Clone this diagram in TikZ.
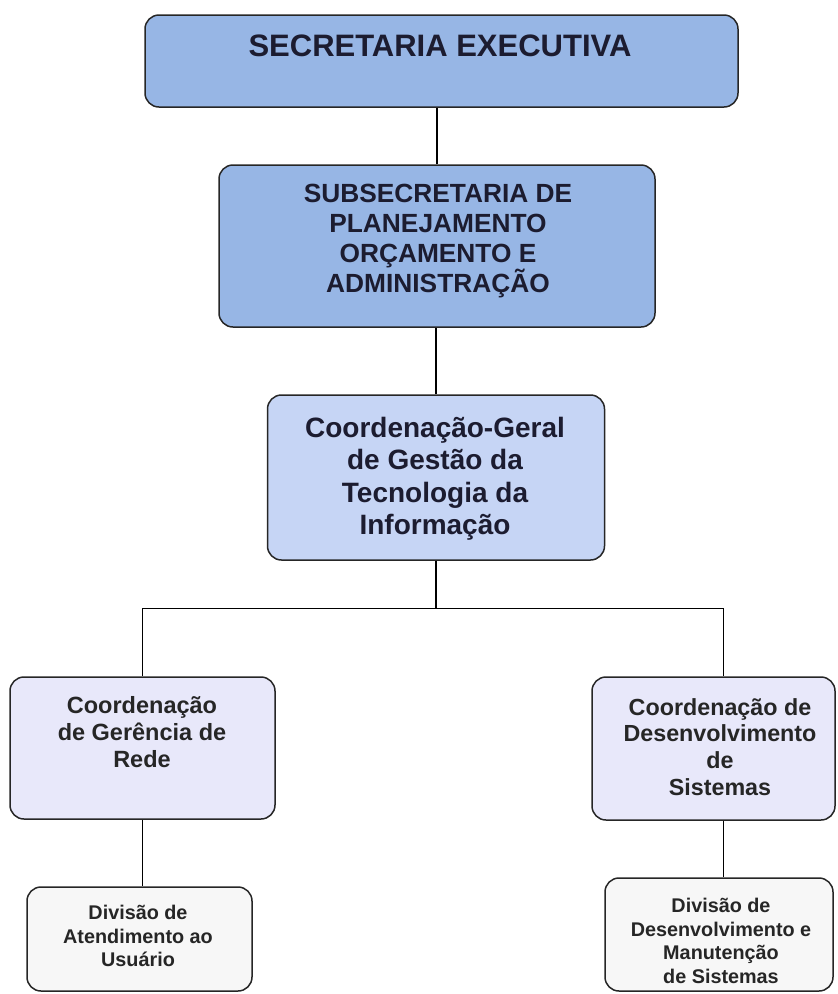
\documentclass[tikz,border=0pt]{standalone}
\usepackage{fontspec}
\setmainfont{Liberation Sans}
\definecolor{azul}{HTML}{97B6E5}
\definecolor{azulclaro}{HTML}{C6D5F5}
\definecolor{lilas}{HTML}{E8E8FA}
\definecolor{cinza}{HTML}{F7F7F7}
\definecolor{tinta}{HTML}{1C1C30}

\begin{document}
\begin{tikzpicture}[x=1pt,y=-1pt,
  caixa/.style={draw=black!85,line width=1.5pt,rounded corners=14pt,inner sep=0pt},
  rotulo/.style={align=center,inner sep=0pt,anchor=north,text=tinta,font=\bfseries},
  liga/.style={line width=1.1pt}]
\useasboundingbox (0,0) rectangle (838,994);
\node [caixa,fill=azul,minimum width=593pt,minimum height=92pt] (sec) at (441.5,61) {};
\node [caixa,fill=azul,minimum width=436pt,minimum height=162pt] (sub) at (437,246) {};
\node [caixa,fill=azulclaro,minimum width=337pt,minimum height=165pt] (cgti) at (436,477.5) {};
\node [caixa,fill=lilas,minimum width=265pt,minimum height=142pt] (cgr) at (142.5,748) {};
\node [caixa,fill=lilas,minimum width=243pt,minimum height=143pt] (cds) at (713.5,748.5) {};
\node [caixa,fill=cinza,minimum width=225pt,minimum height=104pt] (dau) at (139.5,939) {};
\node [caixa,fill=cinza,minimum width=228pt,minimum height=113pt] (ddms) at (719,934.5) {};

\node [rotulo,font=\bfseries\fontsize{31}{36}\selectfont] (sec-t) at (440,35) {SECRETARIA EXECUTIVA};
\node [rotulo,font=\bfseries\fontsize{26.3}{30}\selectfont] (sub-t) at (438,184)
  {SUBSECRETARIA DE\\PLANEJAMENTO\\OR\c{C}AMENTO E\\ADMINISTRA\c{C}\~AO};
\node [rotulo,font=\bfseries\fontsize{28}{32.5}\selectfont] (cgti-t) at (435,417)
  {Coordena\c{c}\~ao-Geral\\de Gest\~ao da\\Tecnologia da\\Informa\c{c}\~ao};
\node [rotulo,text=black!85,font=\bfseries\fontsize{23.5}{27}\selectfont] (cgr-t) at (142,696)
  {Coordena\c{c}\~ao\\de Ger\^encia de\\Rede};
\node [rotulo,text=black!85,font=\bfseries\fontsize{23.3}{26.7}\selectfont] (cds-t) at (720,698)
  {Coordena\c{c}\~ao de\\Desenvolvimento\\de\\Sistemas};
\node [rotulo,text=black!85,font=\bfseries\fontsize{19.8}{23.5}\selectfont] (dau-t) at (138,905)
  {Divis\~ao de\\Atendimento ao\\Usu\'ario};
\node [rotulo,text=black!85,font=\bfseries\fontsize{19.8}{23.5}\selectfont] (ddms-t) at (721,898)
  {Divis\~ao de\\Desenvolvimento e\\Manuten\c{c}\~ao\\de Sistemas};

\draw [liga] (sub.north) -- (sub.north |- sec.south);
\draw [liga] (cgti.north) -- (cgti.north |- sub.south);
\draw [liga] (cgti.south) -- ++(0,48) coordinate (ramo);
\draw [liga] (cgr.north) |- (ramo) -| ([xshift=10pt]cds.north);
\draw [liga] (cgr.south) -- (cgr.south |- dau.north);
\draw [liga] ([xshift=10pt]cds.south) -- ([xshift=10pt]cds.south |- ddms.north);
\end{tikzpicture}
\end{document}
